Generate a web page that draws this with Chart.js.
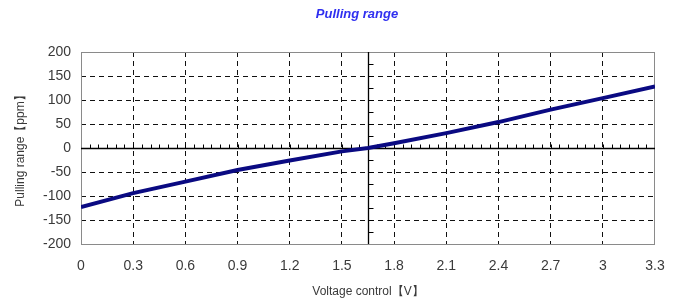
<!DOCTYPE html>
<html>
<head>
<meta charset="utf-8">
<script src="https://cdn.jsdelivr.net/npm/chart.js@4"></script>
<style>
  html, body { margin: 0; padding: 0; background: #ffffff; }
  #wrap { width: 675px; height: 303px; position: relative; }
</style>
</head>
<body>
<div id="wrap"><canvas id="c" width="675" height="303"></canvas></div>
<script>
// ---- data ----
const chartTitle = 'Pulling range';
const xAxisTitle = 'Voltage control【V】';
const yAxisTitle = 'Pulling range【ppm】';
const voltage = [0, 0.3, 0.6, 0.9, 1.2, 1.5, 1.65, 1.8, 2.1, 2.4, 2.7, 3.0, 3.3];
const pullingPpm = [-123, -94, -70, -46, -26, -7, 0, 10, 31, 54, 80, 104, 128];
const xTickValues = [0, 0.3, 0.6, 0.9, 1.2, 1.5, 1.8, 2.1, 2.4, 2.7, 3, 3.3];
const yTickValues = [-200, -150, -100, -50, 0, 50, 100, 150, 200];
const xMin = 0, xMax = 3.3, yMin = -200, yMax = 200;
const axisCrossVoltage = 1.65;
const xMinorStep = 0.05;
const yMinorStep = 25;

const points = voltage.map((v, i) => ({ x: v, y: pullingPpm[i] }));

const fmtX = v => String(Math.round(v * 10) / 10);

const decor = {
  id: 'decor',
  beforeDatasetsDraw(chart) {
    const { ctx, chartArea: a, scales: { x, y } } = chart;
    ctx.save();
    // plot border
    ctx.strokeStyle = '#8a8a8a';
    ctx.lineWidth = 1;
    ctx.setLineDash([]);
    ctx.strokeRect(Math.round(a.left) + 0.5, Math.round(a.top) + 0.5,
                   Math.round(a.right - a.left) - 1, Math.round(a.bottom - a.top));
    // central axes
    const y0 = Math.round(y.getPixelForValue(0)) + 0.5;
    const xc = Math.round(x.getPixelForValue(axisCrossVoltage)) + 0.5;
    ctx.strokeStyle = '#000';
    ctx.lineWidth = 1.3;
    ctx.beginPath();
    ctx.moveTo(a.left, y0); ctx.lineTo(a.right, y0);
    ctx.moveTo(xc, a.top); ctx.lineTo(xc, a.bottom);
    ctx.stroke();
    // minor ticks on horizontal axis (upward)
    ctx.lineWidth = 1;
    ctx.beginPath();
    const nx = Math.round((xMax - xMin) / xMinorStep);
    for (let i = 1; i < nx; i++) {
      const px = Math.round(x.getPixelForValue(xMin + i * xMinorStep)) + 0.5;
      ctx.moveTo(px, y0); ctx.lineTo(px, y0 - 4);
    }
    // minor ticks on vertical axis (rightward)
    const ny = Math.round((yMax - yMin) / yMinorStep);
    for (let i = 1; i < ny; i++) {
      const py = Math.round(y.getPixelForValue(yMin + i * yMinorStep)) + 0.5;
      ctx.moveTo(xc, py); ctx.lineTo(xc + 5, py);
    }
    ctx.stroke();
    ctx.restore();
  },
  afterDraw(chart) {
    const { ctx } = chart;
    ctx.save();
    ctx.font = 'italic bold 13px "Liberation Sans", Arial, sans-serif';
    ctx.fillStyle = '#2f2ff0';
    ctx.textAlign = 'center';
    ctx.textBaseline = 'middle';
    ctx.fillText(chartTitle, 357, 14);
    ctx.restore();
  }
};

const tickFont = { family: '"Liberation Sans", Arial, sans-serif', size: 14 };
const titleFont = { family: '"Liberation Sans", Arial, sans-serif', size: 12 };

new Chart(document.getElementById('c'), {
  type: 'line',
  data: {
    datasets: [{
      data: points,
      borderColor: '#0a0a82',
      borderWidth: 4,
      pointRadius: 0,
      tension: 0,
      fill: false
    }]
  },
  options: {
    responsive: false,
    animation: false,
    events: [],
    layout: { padding: { top: 52, right: 20, left: 0, bottom: 0 } },
    plugins: { legend: { display: false }, title: { display: false }, tooltip: { enabled: false } },
    scales: {
      x: {
        type: 'linear',
        min: xMin, max: xMax,
        afterBuildTicks: s => { s.ticks = xTickValues.map(v => ({ value: v })); },
        afterFit: s => { s.height = 59; s.paddingLeft = 0; s.paddingRight = 0; },
        border: { display: false, dash: [5, 4] },
        grid: {
          drawTicks: false,
          color: c => (c.tick && (c.tick.value <= xMin || c.tick.value >= xMax)) ? 'rgba(0,0,0,0)' : '#111',
          lineWidth: 1
        },
        ticks: {
          padding: 14,
          maxRotation: 0,
          autoSkip: false,
          color: '#3a3a3a',
          font: tickFont,
          callback: v => fmtX(v)
        },
        title: {
          display: true,
          text: xAxisTitle,
          color: '#3a3a3a',
          font: titleFont,
          padding: { top: 0, bottom: 4 }
        }
      },
      y: {
        type: 'linear',
        min: yMin, max: yMax,
        afterBuildTicks: s => { s.ticks = yTickValues.map(v => ({ value: v })); },
        afterFit: s => { s.width = 81; },
        border: { display: false, dash: [5, 4] },
        grid: {
          drawTicks: false,
          color: c => (c.tick && (c.tick.value <= yMin || c.tick.value >= yMax)) ? 'rgba(0,0,0,0)' : '#111',
          lineWidth: 1
        },
        ticks: {
          padding: 10,
          color: '#3a3a3a',
          font: tickFont,
          callback: v => String(v)
        },
        title: {
          display: true,
          text: yAxisTitle,
          color: '#3a3a3a',
          font: titleFont,
          padding: { top: 13, bottom: 0 }
        }
      }
    }
  },
  plugins: [decor]
});
</script>
</body>
</html>
